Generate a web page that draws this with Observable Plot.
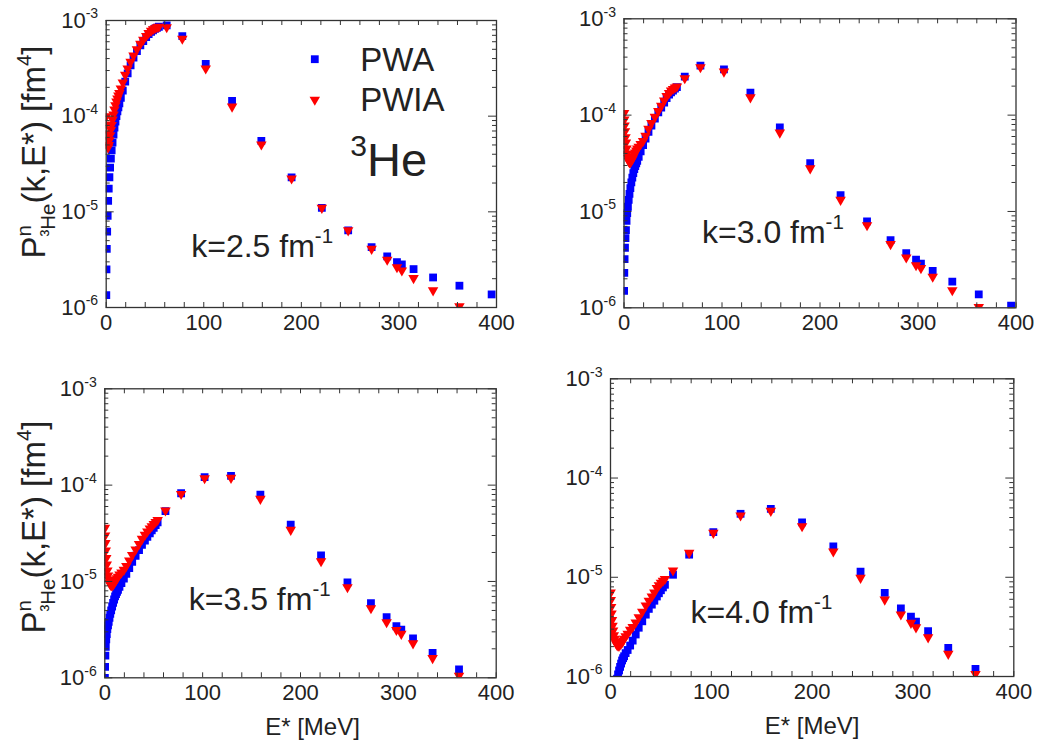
<!DOCTYPE html>
<html><head><meta charset="utf-8">
<script src="https://cdn.jsdelivr.net/npm/d3@7"></script>
<script src="https://cdn.jsdelivr.net/npm/@observablehq/plot@0.6"></script>
<style>
body{margin:0;background:#fff;}
#chart{position:relative;width:1039px;height:744px;font-family:"Liberation Sans",Arial,sans-serif;color:#222;}
#chart svg{position:absolute;overflow:visible;}
</style></head><body><div id="chart"></div>
<script>
// ---- data ----
const energies = [0.1,0.3,0.6,1.0,1.5,2.0,2.6,3.3,4.0,4.8,5.6,6.5,7.5,8.5,9.5,10.5,11.5,12.5,13.5,15,17,19.5,22,25,28,31.5,35,38,41,43.5,46,48,50,52,54,
  62,78,102,129,159,190,221,248,272,288,298,303,315,335,362,395];

const pwa25 = [1.35e-6,2.5e-6,4.1e-6,6.2e-6,9.1e-6,1.3e-5,1.75e-5,2.3e-5,2.9e-5,3.6e-5,4.4e-5,5.3e-5,6.4e-5,7.6e-5,8.8e-5,1.0e-4,1.12e-4,1.24e-4,1.36e-4,1.55e-4,1.85e-4,2.3e-4,2.8e-4,3.4e-4,4.1e-4,4.8e-4,5.5e-4,6.1e-4,6.7e-4,7.2e-4,7.6e-4,7.9e-4,8.2e-4,8.4e-4,8.6e-4,
  8.9e-4,6.86e-4,3.52e-4,1.44e-4,5.53e-5,2.29e-5,1.1e-5,6.4e-6,4.28e-6,3.42e-6,2.98e-6,2.82e-6,2.52e-6,2.06e-6,1.69e-6,1.37e-6];
const pwia25 = [1.0e-4,8.2e-5,6.6e-5,5.5e-5,4.8e-5,4.7e-5,5.0e-5,5.6e-5,6.3e-5,7.2e-5,8.1e-5,9.2e-5,1.04e-4,1.17e-4,1.3e-4,1.42e-4,1.53e-4,1.64e-4,1.74e-4,1.95e-4,2.25e-4,2.7e-4,3.15e-4,3.7e-4,4.3e-4,5.0e-4,5.7e-4,6.3e-4,6.9e-4,7.4e-4,7.8e-4,8.1e-4,8.3e-4,8.5e-4,8.6e-4,
  8.5e-4,6.45e-4,3.15e-4,1.26e-4,5.06e-5,2.23e-5,1.1e-5,6.4e-6,4.1e-6,3.16e-6,2.64e-6,2.44e-6,2.03e-6,1.51e-6,1.03e-6,null];

const pwa30 = [1.5e-6,2.3e-6,3.2e-6,4.2e-6,5.3e-6,6.4e-6,8.0e-6,9.6e-6,1.12e-5,1.32e-5,1.52e-5,1.75e-5,2.0e-5,2.25e-5,2.5e-5,2.75e-5,2.95e-5,3.15e-5,3.35e-5,3.7e-5,4.2e-5,4.9e-5,5.7e-5,6.7e-5,7.8e-5,9.2e-5,1.07e-4,1.2e-4,1.35e-4,1.5e-4,1.63e-4,1.72e-4,1.8e-4,1.88e-4,1.95e-4,
  2.51e-4,3.27e-4,2.99e-4,1.71e-4,7.47e-5,3.18e-5,1.48e-5,7.9e-6,5.04e-6,3.7e-6,3.17e-6,2.88e-6,2.42e-6,1.87e-6,1.38e-6,1.05e-6];
const pwia30 = [1.05e-4,9.0e-5,7.8e-5,6.8e-5,5.9e-5,5.2e-5,4.5e-5,4.0e-5,3.6e-5,3.35e-5,3.22e-5,3.25e-5,3.35e-5,3.5e-5,3.7e-5,3.9e-5,4.1e-5,4.3e-5,4.5e-5,4.7e-5,5.0e-5,5.4e-5,6.1e-5,7.2e-5,8.3e-5,9.6e-5,1.1e-4,1.25e-4,1.42e-4,1.58e-4,1.7e-4,1.8e-4,1.87e-4,1.93e-4,1.98e-4,
  2.42e-4,3.14e-4,2.83e-4,1.53e-4,6.58e-5,2.8e-5,1.32e-5,7.2e-6,4.58e-6,3.33e-6,2.77e-6,2.58e-6,2.1e-6,1.52e-6,1.02e-6,null];

const pwa35 = [1.0e-6,1.3e-6,1.7e-6,2.1e-6,2.5e-6,2.85e-6,3.2e-6,3.5e-6,3.8e-6,4.2e-6,4.6e-6,5.0e-6,5.5e-6,6.0e-6,6.5e-6,7.0e-6,7.4e-6,7.8e-6,8.2e-6,8.8e-6,9.6e-6,1.07e-5,1.2e-5,1.38e-5,1.6e-5,1.85e-5,2.12e-5,2.4e-5,2.65e-5,2.9e-5,3.15e-5,3.4e-5,3.6e-5,3.85e-5,4.1e-5,
  5.36e-5,8.24e-5,1.21e-4,1.25e-4,7.98e-5,3.9e-5,1.86e-5,9.8e-6,5.94e-6,4.25e-6,3.43e-6,3.16e-6,2.57e-6,1.81e-6,1.22e-6,null];
const pwia35 = [3.6e-5,3.0e-5,2.5e-5,2.1e-5,1.75e-5,1.5e-5,1.3e-5,1.15e-5,1.05e-5,9.7e-6,9.3e-6,9.1e-6,9.1e-6,9.3e-6,9.6e-6,1.0e-5,1.04e-5,1.08e-5,1.12e-5,1.18e-5,1.24e-5,1.32e-5,1.45e-5,1.65e-5,1.88e-5,2.15e-5,2.45e-5,2.77e-5,3.05e-5,3.3e-5,3.55e-5,3.75e-5,3.95e-5,4.15e-5,4.35e-5,
  5.45e-5,8.1e-5,1.18e-4,1.19e-4,7.2e-5,3.43e-5,1.62e-5,8.7e-6,5.27e-6,3.77e-6,3.14e-6,2.86e-6,2.28e-6,1.6e-6,1.05e-6,null];

const pwa40 = [null,null,null,null,null,null,null,null,null,null,null,9.5e-7,1.05e-6,1.15e-6,1.25e-6,1.35e-6,1.45e-6,1.53e-6,1.6e-6,1.72e-6,1.85e-6,2.05e-6,2.3e-6,2.65e-6,3.1e-6,3.6e-6,4.2e-6,4.8e-6,5.3e-6,5.8e-6,6.4e-6,6.9e-6,7.4e-6,7.9e-6,8.4e-6,
  1.06e-5,1.69e-5,2.85e-5,4.36e-5,4.89e-5,3.58e-5,2.05e-5,1.14e-5,6.96e-6,4.87e-6,4.02e-6,3.58e-6,2.86e-6,1.94e-6,1.19e-6,null];
const pwia40 = [7.0e-6,5.9e-6,5.0e-6,4.3e-6,3.7e-6,3.25e-6,2.9e-6,2.6e-6,2.4e-6,2.25e-6,2.15e-6,2.08e-6,2.05e-6,2.05e-6,2.1e-6,2.15e-6,2.22e-6,2.3e-6,2.4e-6,2.55e-6,2.7e-6,2.95e-6,3.15e-6,3.5e-6,3.95e-6,4.5e-6,5.2e-6,5.8e-6,6.4e-6,7.0e-6,7.8e-6,8.3e-6,8.8e-6,9.2e-6,9.6e-6,
  1.17e-5,1.76e-5,2.8e-5,4.19e-5,4.67e-5,3.27e-5,1.82e-5,9.86e-6,5.96e-6,4.21e-6,3.47e-6,3.13e-6,2.48e-6,1.69e-6,1.06e-6,null];

const kLabels = ["k=2.5 fm^{-1}", "k=3.0 fm^{-1}", "k=3.5 fm^{-1}", "k=4.0 fm^{-1}"];
const seriesNames = ["PWA", "PWIA"];
const xTickValues = [0, 100, 200, 300, 400];
const xMinorTicks = [0,20,40,60,80,100,120,140,160,180,200,220,240,260,280,300,320,340,360,380,400];
const yTickValues = [1e-6, 1e-5, 1e-4, 1e-3];
const yTickLabels = ["10^{-6}", "10^{-5}", "10^{-4}", "10^{-3}"];
const yMinorTicks = [2e-6,3e-6,4e-6,5e-6,6e-6,7e-6,8e-6,9e-6,2e-5,3e-5,4e-5,5e-5,6e-5,7e-5,8e-5,9e-5,2e-4,3e-4,4e-4,5e-4,6e-4,7e-4,8e-4,9e-4];
const xLabel = "E* [MeV]";
const nucleus = "^{3}He";

// ---- helpers ----
const svgNS = "http://www.w3.org/2000/svg";
const BLUE = "#0000ff", RED = "#ff0000", INK = "#222";
const triangleDown = {
  draw(ctx, size) {
    const y = Math.sqrt(size / (3 * Math.sqrt(3)));
    ctx.moveTo(0, 2 * y);
    ctx.lineTo(-Math.sqrt(3) * y, -y);
    ctx.lineTo(Math.sqrt(3) * y, -y);
    ctx.closePath();
  }
};

function richify(root) {
  root.querySelectorAll("text").forEach(t => {
    const s = t.textContent;
    if (!/[\^_]\{/.test(s)) return;
    const fs = parseFloat(getComputedStyle(t).fontSize);
    t.textContent = "";
    let shift = 0;
    const re = /([\^_])\{([^}]*)\}|([^\^_]+)/g;
    let m;
    while ((m = re.exec(s))) {
      const ts = document.createElementNS(svgNS, "tspan");
      let target, size;
      if (m[3] !== undefined) { target = 0; size = fs; ts.textContent = m[3]; }
      else if (m[1] === "^") { target = -0.42 * fs; size = 0.64 * fs; ts.textContent = m[2]; }
      else { target = 0.25 * fs; size = 0.64 * fs; ts.textContent = m[2]; }
      ts.setAttribute("dy", target - shift);
      shift = target;
      ts.setAttribute("font-size", size);
      t.appendChild(ts);
    }
  });
}

const chart = document.getElementById("chart");

const panels = [
  {pwa: pwa25, pwia: pwia25, k: kLabels[0], left: 0, top: 0, width: 540, height: 345, ml: 105.7, mr: 44, mt: 20, mb: 38, kdx: 85, kdy: 236, legend: true},
  {pwa: pwa30, pwia: pwia30, k: kLabels[1], left: 520, top: 0, width: 519, height: 345, ml: 103.5, mr: 23.5, mt: 18.3, mb: 37.7, kdx: 78, kdy: 224},
  {pwa: pwa35, pwia: pwia35, k: kLabels[2], left: 0, top: 345, width: 540, height: 399, ml: 104.3, mr: 44.3, mt: 43.3, mb: 66.7, kdx: 84, kdy: 221, xlabel: true, xldx: 12},
  {pwa: pwa40, pwia: pwia40, k: kLabels[3], left: 520, top: 345, width: 519, height: 399, ml: 90, mr: 25.7, mt: 33.3, mb: 68, kdx: 80, kdy: 244, xlabel: true, xldx: 0}
];

for (const p of panels) {
  const data = energies.map((e, i) => ({e, pwa: p.pwa[i], pwia: p.pwia[i]}));
  const fw = p.width - p.ml - p.mr, fh = p.height - p.mt - p.mb;
  const marks = [
    Plot.dot(data, {x: "e", y: "pwa", symbol: "square", r: 4.4, fill: BLUE, clip: true}),
    Plot.dot(data, {x: "e", y: "pwia", symbol: triangleDown, r: 3.9, fill: RED, clip: true}),
    Plot.tickX(xMinorTicks, {x: d => d, insetTop: fh - 5, stroke: "#333", strokeWidth: 1}),
    Plot.tickX(xMinorTicks, {x: d => d, insetBottom: fh - 5, stroke: "#333", strokeWidth: 1}),
    Plot.tickY(yTickValues, {y: d => d, insetRight: fw - 8, stroke: "#333", strokeWidth: 1}),
    Plot.tickY(yTickValues, {y: d => d, insetLeft: fw - 8, stroke: "#333", strokeWidth: 1}),
    Plot.tickY(yMinorTicks, {y: d => d, insetRight: fw - 4, stroke: "#333", strokeWidth: 1}),
    Plot.tickY(yMinorTicks, {y: d => d, insetLeft: fw - 4, stroke: "#333", strokeWidth: 1}),
    Plot.frame({stroke: "#333", strokeWidth: 1.3}),
    Plot.axisX(xTickValues, {tickSize: 0, tickPadding: 7, fontSize: 22, fill: INK}),
    Plot.axisY(yTickValues, {tickSize: 0, tickPadding: 8, fontSize: 22, fill: INK,
      tickFormat: d => yTickLabels[yTickValues.indexOf(d)]}),
    Plot.text([p.k], {text: d => d, frameAnchor: "top-left", dx: p.kdx, dy: p.kdy, textAnchor: "start", lineAnchor: "bottom", fontSize: 32, fill: INK})
  ];
  if (p.legend) {
    marks.push(
      Plot.dot([seriesNames[0]], {frameAnchor: "top-left", dx: 208.6, dy: 38.7, symbol: "square", r: 4.4, fill: BLUE}),
      Plot.dot([seriesNames[1]], {frameAnchor: "top-left", dx: 208.6, dy: 79.3, symbol: triangleDown, r: 3.9, fill: RED}),
      Plot.text([seriesNames[0]], {text: d => d, frameAnchor: "top-left", dx: 254, dy: 50, textAnchor: "start", lineAnchor: "bottom", fontSize: 33, fill: INK}),
      Plot.text([seriesNames[1]], {text: d => d, frameAnchor: "top-left", dx: 254, dy: 90, textAnchor: "start", lineAnchor: "bottom", fontSize: 33, fill: INK}),
      Plot.text([nucleus], {text: d => d, frameAnchor: "top-left", dx: 244, dy: 155, textAnchor: "start", lineAnchor: "bottom", fontSize: 47, fill: INK})
    );
  }
  if (p.xlabel) {
    marks.push(Plot.text([xLabel], {text: d => d, frameAnchor: "bottom", dx: p.xldx, dy: 57, lineAnchor: "bottom", fontSize: 24, fill: INK}));
  }
  const svg = Plot.plot({
    width: p.width, height: p.height,
    marginLeft: p.ml, marginRight: p.mr, marginTop: p.mt, marginBottom: p.mb,
    x: {domain: [0, 400], label: null},
    y: {type: "log", domain: [1e-6, 1e-3], label: null},
    style: {fontFamily: '"Liberation Sans", Arial, sans-serif', background: "transparent", color: INK, overflow: "visible"},
    marks
  });
  svg.style.left = p.left + "px";
  svg.style.top = p.top + "px";
  svg.style.width = p.width + "px";
  svg.style.height = p.height + "px";
  svg.style.maxWidth = "none";
  chart.appendChild(svg);
  richify(svg);
}

// y-axis titles
const overlay = d3.select(chart).append("svg")
  .attr("width", 1039).attr("height", 744)
  .style("left", "0px").style("top", "0px")
  .style("font-family", '"Liberation Sans", Arial, sans-serif');

function yTitle(cx, cy) {
  const fs = 33;
  const t = overlay.append("text")
    .attr("transform", `translate(${cx},${cy}) rotate(-90)`)
    .attr("text-anchor", "middle")
    .attr("font-size", fs).attr("fill", INK);
  t.append("tspan").text("P");
  const sup = t.append("tspan").attr("font-size", fs * 0.62).attr("dy", -0.42 * fs).text("n");
  const w = sup.node().getComputedTextLength();
  t.append("tspan").attr("font-size", fs * 0.62).attr("dx", -w).attr("dy", 0.42 * fs + 0.3 * fs).text("\u00B3He");
  t.append("tspan").attr("dy", -0.3 * fs).text("(k,E*) [fm");
  t.append("tspan").attr("font-size", fs * 0.62).attr("dy", -0.42 * fs).text("4");
  t.append("tspan").attr("dy", 0.42 * fs).text("]");
}
yTitle(45, 152);
yTitle(45, 527);
</script>
</body></html>
